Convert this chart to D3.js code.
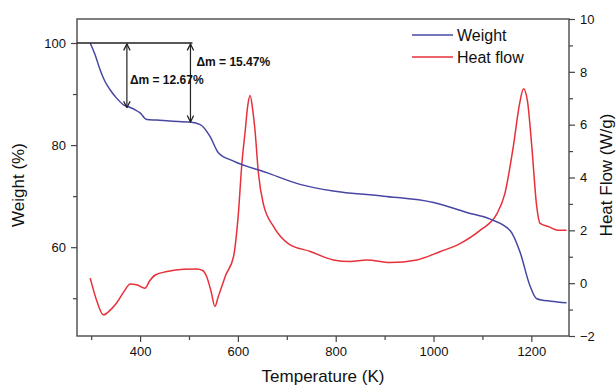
<!DOCTYPE html>
<html>
<head>
<meta charset="utf-8">
<script src="https://cdn.jsdelivr.net/npm/d3@7"></script>
<style>
  body { margin: 0; background: #fff; }
  text { font-family: "Liberation Sans", Arial, sans-serif; fill: #111; }
</style>
</head>
<body>
<div id="chart"></div>
<script>
// svg size
var svgWidth = 616,
	svgHeight = 385;

var margin = { top: 19, right: 47, bottom: 49, left: 77 };

var width = svgWidth - margin.left - margin.right,
	height = svgHeight - margin.top - margin.bottom;

// weight (TGA) curve
var weightTemp = [298, 308, 318, 328, 339, 352, 366, 376, 390, 400, 414, 434, 460, 502, 523, 543, 560, 590, 659, 727, 795, 898, 1000, 1068, 1116, 1157, 1177, 1197, 1211, 1240, 1272];
var weightVal  = [100, 97.7, 94.8, 92.5, 90.8, 89.2, 87.9, 87.5, 86.9, 86.3, 85.0, 84.9, 84.7, 84.5, 84.0, 81.7, 78.5, 76.9, 74.6, 72.3, 71.0, 70.0, 68.75, 66.8, 65.5, 63.2, 59.0, 52.5, 49.9, 49.4, 49.1];

// heat flow (DSC) curve
var heatTemp = [298, 312, 325, 340, 352, 366, 380, 393, 410, 420, 431, 455, 489, 516, 528, 536, 545, 553, 560, 567, 575, 591, 601, 608, 615, 620, 625, 630, 635, 642, 652, 673, 703, 748, 795, 829, 864, 911, 966, 1013, 1054, 1095, 1130, 1146, 1163, 1176, 1184, 1192, 1201, 1211, 1218, 1235, 1255, 1272];
var heatVal  = [0.19, -0.7, -1.2, -1.0, -0.75, -0.35, -0.03, -0.06, -0.19, 0.1, 0.31, 0.44, 0.53, 0.54, 0.48, 0.25, -0.3, -0.88, -0.5, -0.13, 0.3, 1.0, 2.64, 4.5, 5.78, 6.7, 7.1, 6.6, 5.78, 4.15, 3.0, 2.14, 1.5, 1.2, 0.88, 0.82, 0.88, 0.78, 0.88, 1.19, 1.5, 2.0, 2.64, 3.4, 5.16, 6.8, 7.36, 6.9, 5.16, 2.9, 2.26, 2.14, 2.0, 2.0];

// mass loss annotations
var dmTemp  = [373, 503];
var dmValue = [12.67, 15.47];

var seriesNames  = ['Weight', 'Heat flow'];
var seriesColors = ['#4747a3', '#e8303a'];

var svg = d3.select('#chart')
	.append('svg')
	.attr('width', svgWidth)
	.attr('height', svgHeight);

var chartGroup = svg.append('g')
	.attr('transform', `translate(${margin.left},${margin.top})`);

// scales
var xScale = d3.scaleLinear().domain([271, 1277]).range([0, width]);
var yLeft = d3.scaleLinear().domain([42.6, 104.7]).range([height, 0]);
var yRight = d3.scaleLinear().domain([-2, 10]).range([height, 0]);

// frame
chartGroup.append('rect')
	.attr('width', width)
	.attr('height', height)
	.attr('fill', 'none')
	.attr('stroke', '#555')
	.attr('stroke-width', 1.5);

function styleAxis(g) {
	g.select('.domain').remove();
	g.selectAll('line').attr('stroke', '#444').attr('stroke-width', 1.2);
	g.selectAll('text').style('font-size', '13px').attr('fill', '#111');
}

var fmt = d3.format('d');

// bottom axis
chartGroup.append('g')
	.attr('transform', `translate(0,${height})`)
	.call(d3.axisBottom(xScale).tickValues([400, 600, 800, 1000, 1200]).tickFormat(fmt).tickSize(6).tickPadding(5))
	.call(styleAxis);
chartGroup.append('g')
	.attr('transform', `translate(0,${height})`)
	.call(d3.axisBottom(xScale).tickValues([300, 500, 700, 900, 1100]).tickSize(4).tickFormat(''))
	.call(styleAxis);

// left axis
chartGroup.append('g')
	.call(d3.axisLeft(yLeft).tickValues([60, 80, 100]).tickFormat(fmt).tickSize(6).tickPadding(5))
	.call(styleAxis);
chartGroup.append('g')
	.call(d3.axisLeft(yLeft).tickValues([50, 70, 90]).tickSize(4).tickFormat(''))
	.call(styleAxis);

// right axis
chartGroup.append('g')
	.attr('transform', `translate(${width},0)`)
	.call(d3.axisRight(yRight).tickValues([-2, 0, 2, 4, 6, 8, 10]).tickFormat(fmt).tickSize(6).tickPadding(5))
	.call(styleAxis);
chartGroup.append('g')
	.attr('transform', `translate(${width},0)`)
	.call(d3.axisRight(yRight).tickValues([-1, 1, 3, 5, 7, 9]).tickSize(4).tickFormat(''))
	.call(styleAxis);

// curves
var weightLine = d3.line()
	.x((d, i) => xScale(weightTemp[i]))
	.y(d => yLeft(d))
	.curve(d3.curveMonotoneX);

var heatLine = d3.line()
	.x((d, i) => xScale(heatTemp[i]))
	.y(d => yRight(d))
	.curve(d3.curveMonotoneX);

chartGroup.append('path')
	.datum(heatVal)
	.attr('d', heatLine)
	.attr('fill', 'none')
	.attr('stroke', seriesColors[1])
	.attr('stroke-width', 1.5);

chartGroup.append('path')
	.datum(weightVal)
	.attr('d', weightLine)
	.attr('fill', 'none')
	.attr('stroke', seriesColors[0])
	.attr('stroke-width', 1.5);

// arrow markers
var defs = svg.append('defs');
defs.append('marker')
	.attr('id', 'arr')
	.attr('viewBox', '0 0 10 10')
	.attr('refX', 9).attr('refY', 5)
	.attr('markerWidth', 8).attr('markerHeight', 8)
	.attr('orient', 'auto-start-reverse')
	.attr('markerUnits', 'userSpaceOnUse')
	.append('path')
	.attr('d', 'M1,1 L9,5 L1,9')
	.attr('fill', 'none')
	.attr('stroke', '#222')
	.attr('stroke-width', 1.6);

// reference line at 100 %
chartGroup.append('line')
	.attr('x1', 0)
	.attr('x2', xScale(dmTemp[1]) + 2)
	.attr('y1', yLeft(100))
	.attr('y2', yLeft(100))
	.attr('stroke', '#222')
	.attr('stroke-width', 1.3);

dmTemp.forEach((t, i) => {
	chartGroup.append('line')
		.attr('x1', xScale(t)).attr('x2', xScale(t))
		.attr('y1', yLeft(100) + 1)
		.attr('y2', yLeft(100 - dmValue[i]))
		.attr('stroke', '#222')
		.attr('stroke-width', 1.2)
		.attr('marker-start', 'url(#arr)')
		.attr('marker-end', 'url(#arr)');
});

chartGroup.append('text')
	.attr('x', xScale(dmTemp[0]) + 3)
	.attr('y', yLeft(100) + 41)
	.style('font-size', '12px')
	.style('font-weight', 'bold')
	.text(`\u0394m = ${dmValue[0].toFixed(2)}%`);

chartGroup.append('text')
	.attr('x', xScale(dmTemp[1]) + 6)
	.attr('y', yLeft(100) + 23)
	.style('font-size', '12px')
	.style('font-weight', 'bold')
	.text(`\u0394m = ${dmValue[1].toFixed(2)}%`);

// legend
var legend = chartGroup.append('g')
	.attr('transform', `translate(${width - 157},16)`);
seriesNames.forEach((name, i) => {
	var row = legend.append('g').attr('transform', `translate(0,${i * 22})`);
	row.append('line')
		.attr('x1', 0).attr('x2', 41)
		.attr('stroke', seriesColors[i])
		.attr('stroke-width', 1.5);
	row.append('text')
		.attr('x', 45).attr('y', 6)
		.style('font-size', '16px')
		.text(name);
});

// axis titles
svg.append('text')
	.attr('x', margin.left + width / 2)
	.attr('y', svgHeight - 3)
	.attr('text-anchor', 'middle')
	.style('font-size', '17px')
	.text('Temperature (K)');

svg.append('text')
	.attr('transform', `translate(24,${margin.top + 166})rotate(-90)`)
	.attr('text-anchor', 'middle')
	.style('font-size', '17px')
	.text('Weight (%)');

svg.append('text')
	.attr('transform', `translate(${svgWidth - 4},${margin.top + 156})rotate(-90)`)
	.attr('text-anchor', 'middle')
	.style('font-size', '17px')
	.text('Heat Flow (W/g)');
</script>
</body>
</html>
